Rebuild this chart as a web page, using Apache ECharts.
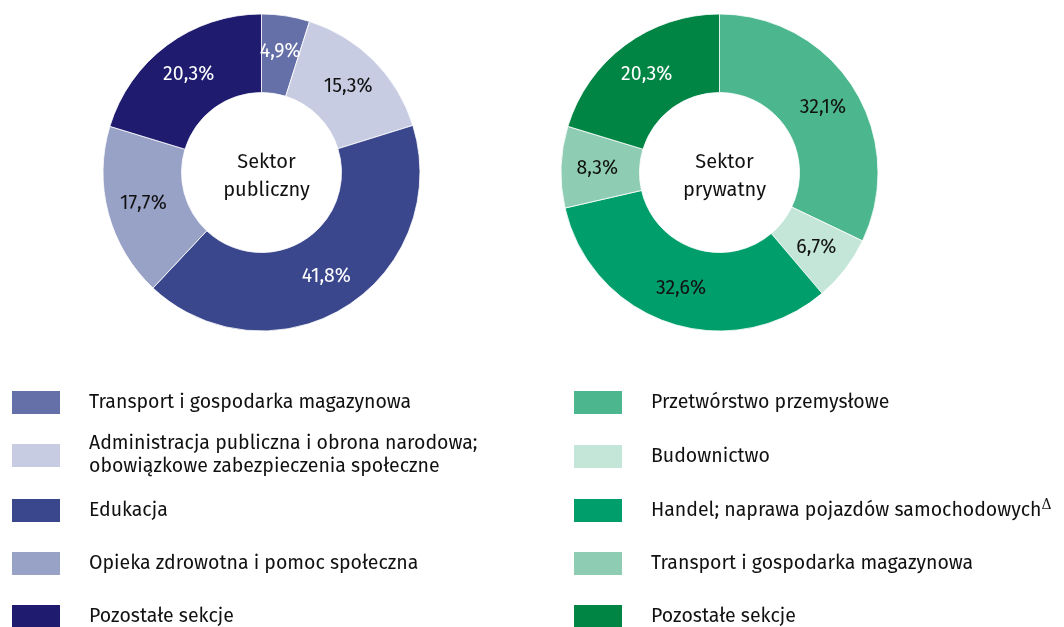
<!DOCTYPE html>
<html>
<head>
<meta charset="utf-8">
<style>
    html, body { margin: 0; padding: 0; background: #fff; }
    #chart { width: 1064px; height: 627px; }
</style>
<script src="https://cdn.jsdelivr.net/npm/echarts@6/dist/echarts.min.js"></script>
</head>
<body>
<div id="chart"></div>
<script>
    // sektor publiczny
    const publicNames = [
        'Transport i gospodarka magazynowa',
        'Administracja publiczna i obrona narodowa;\nobowiązkowe zabezpieczenia społeczne',
        'Edukacja',
        'Opieka zdrowotna i pomoc społeczna',
        'Pozostałe sekcje'
    ]
    const publicValues = [4.9, 15.3, 41.8, 17.7, 20.3]
    const publicColors = ['#6670a8', '#c8cce2', '#3b478c', '#98a1c6', '#1f1b6e']
    const publicLabelColors = ['#fff', '#111', '#fff', '#111', '#fff']

    // sektor prywatny (zero-width space keeps names apart from the public ones)
    const privateNames = [
        'Przetwórstwo przemysłowe',
        'Budownictwo',
        'Handel; naprawa pojazdów samochodowych',
        'Transport i gospodarka magazynowa\u200b',
        'Pozostałe sekcje\u200b'
    ]
    const privateValues = [32.1, 6.7, 32.6, 8.3, 20.3]
    const privateColors = ['#4cb78f', '#c3e6d8', '#009e6b', '#8ecdb3', '#008545']
    const privateLabelColors = ['#111', '#111', '#111', '#111', '#fff']

    const FONT = '"Fira Sans", "Noto Sans", sans-serif'

    function pieData(names, values, colors, labelColors) {
        return names.map((n, i) => ({
            name: n,
            value: values[i],
            itemStyle: { color: colors[i] },
            label: { color: labelColors[i] }
        }))
    }

    function pieSeries(center, names, values, colors, labelColors) {
        return {
            type: 'pie',
            center: center,
            radius: [80, 158.5],
            startAngle: 90,
            clockwise: true,
            silent: true,
            avoidLabelOverlap: false,
            itemStyle: { borderColor: '#fff', borderWidth: 0.8 },
            label: {
                position: 'inside',
                fontFamily: FONT,
                fontSize: 19.5,
                formatter: p => p.value.toFixed(1).replace('.', ',') + '%'
            },
            labelLine: { show: false },
            data: pieData(names, values, colors, labelColors)
        }
    }

    // one legend per row so rows sit where the picture has them
    const rowTops = [389, 443, 497, 550, 603]
    function legends(names, left) {
        return names.map((n, i) => ({
            data: [n],
            left: left,
            // two-line entries are taller than the swatch, lift the box so the swatch stays put
            top: n.indexOf('\n') >= 0 ? rowTops[i] - 10.5 : rowTops[i],
            padding: 0,
            itemWidth: 50,
            itemHeight: 25,
            icon: 'rect',
            selectedMode: false,
            formatter: name => {
                const clean = name.replace('\u200b', '')
                if (clean.indexOf('Handel') === 0) return '{t|' + clean + '}{sup|Δ}'
                return clean
            },
            textStyle: {
                fontFamily: FONT,
                fontSize: 19.5,
                color: '#111',
                lineHeight: 23,
                padding: [0, 0, 0, 23],
                rich: {
                    t: { fontFamily: FONT, fontSize: 19.5, color: '#111', lineHeight: 24 },
                    sup: { fontFamily: 'DejaVu Serif', fontSize: 14, color: '#111', verticalAlign: 'top', lineHeight: 24, padding: [0, 0, 12, 0] }
                }
            }
        }))
    }

    const centerText = {
        fontFamily: FONT, fontSize: 20, fontWeight: 'normal', color: '#111', lineHeight: 28
    }

    const chart = echarts.init(document.getElementById('chart'), null, { renderer: 'canvas' })
    chart.setOption({
        animation: false,
        title: [{
            text: 'Sektor\npubliczny',
            left: 261.5,
            top: 143,
            textAlign: 'center',
            textStyle: centerText
        }, {
            text: 'Sektor\nprywatny',
            left: 719.5,
            top: 143,
            textAlign: 'center',
            textStyle: centerText
        }],
        legend: legends(publicNames, 10).concat(legends(privateNames, 572)),
        series: [
            pieSeries([261.5, 172.5], publicNames, publicValues, publicColors, publicLabelColors),
            pieSeries([719.5, 172.5], privateNames, privateValues, privateColors, privateLabelColors)
        ]
    })
</script>
</body>
</html>
